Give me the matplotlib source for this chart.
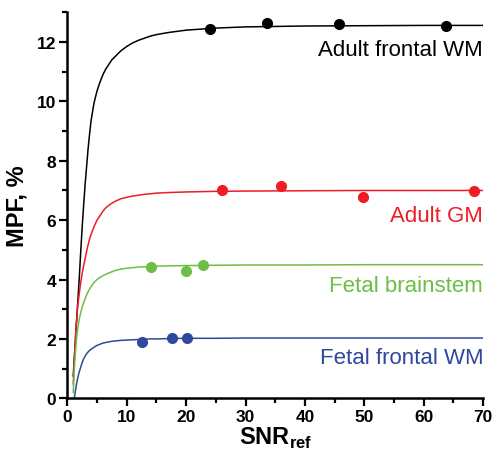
import matplotlib
matplotlib.use('Agg')
import matplotlib.pyplot as plt
from matplotlib.ticker import MultipleLocator

plt.rcParams['font.family'] = ['Liberation Sans', 'DejaVu Sans']
plt.rcParams['mathtext.fontset'] = 'custom'
plt.rcParams['mathtext.rm'] = 'Liberation Sans'
plt.rcParams['mathtext.bf'] = 'Liberation Sans:bold'

# fitted curves
curve_x = [1.0, 1.25, 1.5, 1.75, 2.0, 2.25, 2.5, 2.75, 3.0, 3.25, 3.5, 3.75, 4.0,
           4.5, 5.0, 5.5, 6.0, 6.5, 7.0, 7.5, 8.0,
           9.0, 10.0, 11.0, 12.0, 13.0, 14.0, 15.0,
           17.0, 20.0, 25.0, 30.0, 40.0, 50.0, 60.0, 70.0]
wm_adult_fit = [0.75, 1.6, 2.4, 3.2, 4.0, 4.9, 5.75, 6.5, 7.2, 7.8, 8.4, 8.9, 9.35,
                9.95, 10.35, 10.65, 10.9, 11.1, 11.25, 11.4, 11.5,
                11.7, 11.85, 11.97, 12.06, 12.13, 12.2, 12.25,
                12.32, 12.4, 12.47, 12.51, 12.54, 12.55, 12.56, 12.56]
gm_adult_fit = [0.48, 1.55, 2.45, 3.1, 3.5, 3.9, 4.2, 4.47, 4.7, 4.95, 5.17, 5.36, 5.52,
                5.78, 6.0, 6.15, 6.3, 6.42, 6.5, 6.57, 6.63,
                6.72, 6.77, 6.81, 6.84, 6.87, 6.89, 6.91,
                6.93, 6.95, 6.97, 6.98, 6.99, 7.0, 7.0, 7.0]
bs_fetal_fit = [0.2, 1.2, 1.9, 2.35, 2.65, 2.88, 3.06, 3.22, 3.36, 3.48, 3.59, 3.68, 3.76,
                3.9, 4.0, 4.07, 4.13, 4.18, 4.22, 4.26, 4.3,
                4.35, 4.38, 4.4, 4.42, 4.43, 4.44, 4.45,
                4.46, 4.47, 4.48, 4.49, 4.49, 4.5, 4.5, 4.5]
wm_fetal_fit = [-0.3, 0.1, 0.42, 0.68, 0.88, 1.04, 1.2, 1.33, 1.42, 1.5, 1.56, 1.61, 1.65,
                1.72, 1.78, 1.82, 1.86, 1.88, 1.9, 1.92, 1.93,
                1.95, 1.96, 1.97, 1.98, 1.99, 2.0, 2.0,
                2.01, 2.02, 2.02, 2.03, 2.03, 2.03, 2.03, 2.03]

# measured points
wm_adult_snr = [24.1, 33.7, 45.8, 63.8]
wm_adult_mpf = [12.43, 12.63, 12.6, 12.53]
gm_adult_snr = [26.0, 35.9, 49.7, 68.5]
gm_adult_mpf = [7.01, 7.16, 6.77, 6.99]
bs_fetal_snr = [14.1, 20.0, 22.9]
bs_fetal_mpf = [4.43, 4.30, 4.49]
wm_fetal_snr = [12.5, 17.7, 20.2]
wm_fetal_mpf = [1.91, 2.03, 2.03]

names = ['Adult frontal WM', 'Adult GM', 'Fetal brainstem', 'Fetal frontal WM']
label_y = [11.76, 6.14, 3.79, 1.38]
colors = ['#000000', '#ee1c24', '#6cbe45', '#2e489c']

fig = plt.figure(figsize=(4.93, 4.60), dpi=100)
ax = fig.add_axes([0.1365, 0.132, 0.8435, 0.839])

fits = [wm_adult_fit, gm_adult_fit, bs_fetal_fit, wm_fetal_fit]
pts = [(wm_adult_snr, wm_adult_mpf), (gm_adult_snr, gm_adult_mpf),
       (bs_fetal_snr, bs_fetal_mpf), (wm_fetal_snr, wm_fetal_mpf)]

for fit, (px, py), name, ly, c in zip(fits, pts, names, label_y, colors):
    ax.plot(curve_x, fit, color=c, linewidth=1.1)
    ax.plot(px, py, 'o', color=c, markersize=7, clip_on=False)
    ax.text(70, ly, name, color=c, fontsize=16, ha='right', va='center')

ax.set_xlim(0, 70)
ax.set_ylim(0, 13)
ax.xaxis.set_major_locator(MultipleLocator(10))
ax.xaxis.set_minor_locator(MultipleLocator(5))
ax.yaxis.set_major_locator(MultipleLocator(2))
ax.yaxis.set_minor_locator(MultipleLocator(1))

for s in ['top', 'right']:
    ax.spines[s].set_visible(False)
for s in ['left', 'bottom']:
    ax.spines[s].set_linewidth(1.8)

ax.tick_params(which='major', direction='out', length=6, width=1.6, labelsize=12.5, pad=2)
ax.tick_params(which='minor', direction='out', length=3.5, width=1.6)
for lab in ax.get_xticklabels() + ax.get_yticklabels():
    lab.set_fontweight('bold')

ax.set_xlabel(r'SNR$_{\mathbf{ref}}$', fontsize=17, fontweight='bold', labelpad=0)
ax.set_ylabel('MPF, %', fontsize=17, fontweight='bold', labelpad=6)

fig.savefig('out.png', dpi=100)
